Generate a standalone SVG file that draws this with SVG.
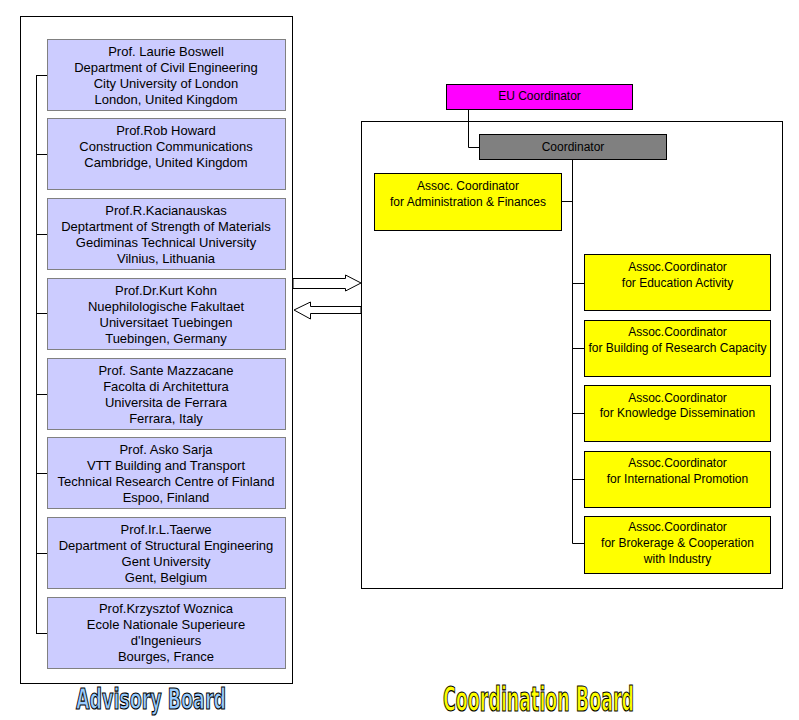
<svg xmlns="http://www.w3.org/2000/svg" width="799" height="720" viewBox="0 0 799 720">
<style>
.frame{fill:none;stroke:#000;stroke-width:1}
.adv rect{fill:#CCCCFF;stroke:#808080;stroke-width:1}
.adv text{font-family:"Liberation Sans",Arial,sans-serif;font-size:13px;fill:#000;text-anchor:middle}
.co rect{fill:#FFFF00;stroke:#000;stroke-width:1}
.co text{font-family:"Liberation Sans",Arial,sans-serif;font-size:12px;fill:#000;text-anchor:middle}
.conn line,.conn polyline{fill:none;stroke:#000;stroke-width:1}
.arrow{fill:#fff;stroke:#000;stroke-width:1}
.title{font-family:"DejaVu Sans Condensed","DejaVu Sans",sans-serif;font-stretch:condensed;font-weight:bold;stroke:#000;stroke-width:1.2}
</style>
<rect class="frame" x="20.5" y="16.5" width="272" height="667"/>
<rect class="frame" x="361.5" y="121.5" width="421" height="467"/>

<g id="connectors" class="conn">
<line x1="36.5" y1="75" x2="36.5" y2="633.5"/>
<line x1="36" y1="75.5" x2="47" y2="75.5"/>
<line x1="36" y1="154.5" x2="47" y2="154.5"/>
<line x1="36" y1="234.5" x2="47" y2="234.5"/>
<line x1="36" y1="313.5" x2="47" y2="313.5"/>
<line x1="36" y1="394.5" x2="47" y2="394.5"/>
<line x1="36" y1="473.5" x2="47" y2="473.5"/>
<line x1="36" y1="553.5" x2="47" y2="553.5"/>
<line x1="36" y1="633.5" x2="47" y2="633.5"/>
<polyline points="468.5,110 468.5,147.5 479,147.5"/>
<line x1="572.5" y1="160" x2="572.5" y2="543.5"/>
<line x1="562" y1="201.5" x2="572.5" y2="201.5"/>
<line x1="572.5" y1="283.5" x2="584" y2="283.5"/>
<line x1="572.5" y1="348.5" x2="584" y2="348.5"/>
<line x1="572.5" y1="413.5" x2="584" y2="413.5"/>
<line x1="572.5" y1="479.5" x2="584" y2="479.5"/>
<line x1="572.5" y1="543.5" x2="584" y2="543.5"/>
<polygon class="arrow" points="293,278.5 345.5,278.5 345.5,275 361,283 345.5,291 345.5,288.5 293,288.5"/>
<polygon class="arrow" points="361,306.5 310.5,306.5 310.5,302 294,310 310.5,319 310.5,313.5 361,313.5"/>
</g>

<g class="adv">
<g id="adv1"><rect x="47.5" y="39.5" width="238" height="71"/>
<text x="166" y="56">Prof. Laurie Boswell</text><text x="166" y="72">Department of Civil Engineering</text><text x="166" y="88">City University of London</text><text x="166" y="104">London, United Kingdom</text></g>
<g id="adv2"><rect x="47.5" y="118.5" width="238" height="71"/>
<text x="166" y="135">Prof.Rob Howard</text><text x="166" y="151">Construction Communications</text><text x="166" y="167">Cambridge, United Kingdom</text></g>
<g id="adv3"><rect x="47.5" y="198.5" width="238" height="71"/>
<text x="166" y="215">Prof.R.Kacianauskas</text><text x="166" y="231">Deptartment of Strength of Materials</text><text x="166" y="247">Gediminas Technical University</text><text x="166" y="263">Vilnius, Lithuania</text></g>
<g id="adv4"><rect x="47.5" y="278.5" width="238" height="71"/>
<text x="166" y="295">Prof.Dr.Kurt Kohn</text><text x="166" y="311">Nuephilologische Fakultaet</text><text x="166" y="327">Universitaet Tuebingen</text><text x="166" y="343">Tuebingen, Germany</text></g>
<g id="adv5"><rect x="47.5" y="358.5" width="238" height="71"/>
<text x="166" y="375">Prof. Sante Mazzacane</text><text x="166" y="391">Facolta di Architettura</text><text x="166" y="407">Universita de Ferrara</text><text x="166" y="423">Ferrara, Italy</text></g>
<g id="adv6"><rect x="47.5" y="437.5" width="238" height="71"/>
<text x="166" y="454">Prof. Asko Sarja</text><text x="166" y="470">VTT Building and Transport</text><text x="166" y="486">Technical Research Centre of Finland</text><text x="166" y="502">Espoo, Finland</text></g>
<g id="adv7"><rect x="47.5" y="517.5" width="238" height="71"/>
<text x="166" y="534">Prof.Ir.L.Taerwe</text><text x="166" y="550">Department of Structural Engineering</text><text x="166" y="566">Gent University</text><text x="166" y="582">Gent, Belgium</text></g>
<g id="adv8"><rect x="47.5" y="597.5" width="238" height="71"/>
<text x="166" y="613">Prof.Krzysztof Woznica</text><text x="166" y="629">Ecole Nationale Superieure</text><text x="166" y="645">d'Ingenieurs</text><text x="166" y="661">Bourges, France</text></g>
</g>

<g class="co">
<g id="eu"><rect x="446.5" y="84.5" width="186" height="25" style="fill:#FF00FF"/><text x="539.5" y="100">EU Coordinator</text></g>
<g id="coord"><rect x="479.5" y="134.5" width="187" height="25" style="fill:#808080"/><text x="573" y="151">Coordinator</text></g>
<g id="admin"><rect x="374.5" y="173.5" width="187" height="57"/><text x="468" y="189.5">Assoc. Coordinator</text><text x="468" y="205.5">for Administration &amp; Finances</text></g>
<g id="edu"><rect x="584.5" y="254.5" width="186" height="56"/><text x="677.5" y="270.5">Assoc.Coordinator</text><text x="677.5" y="286.5">for Education Activity</text></g>
<g id="research"><rect x="584.5" y="320.5" width="186" height="56"/><text x="677.5" y="336">Assoc.Coordinator</text><text x="677.5" y="352">for Building of Research Capacity</text></g>
<g id="knowledge"><rect x="584.5" y="385.5" width="186" height="56"/><text x="677.5" y="401.5">Assoc.Coordinator</text><text x="677.5" y="417">for Knowledge Dissemination</text></g>
<g id="intl"><rect x="584.5" y="451.5" width="186" height="56"/><text x="677.5" y="466.5">Assoc.Coordinator</text><text x="677.5" y="482.5">for International Promotion</text></g>
<g id="brokerage"><rect x="584.5" y="516.5" width="186" height="57"/><text x="677.5" y="531">Assoc.Coordinator</text><text x="677.5" y="547">for Brokerage &amp; Cooperation</text><text x="677.5" y="563">with Industry</text></g>
</g>

<text class="title" x="76" y="709" font-size="29" textLength="150" lengthAdjust="spacingAndGlyphs" fill="#99CCFF">Advisory Board</text>
<text class="title" x="443" y="711" font-size="34" textLength="191" lengthAdjust="spacingAndGlyphs" fill="#FFFF00">Coordination Board</text>
</svg>
